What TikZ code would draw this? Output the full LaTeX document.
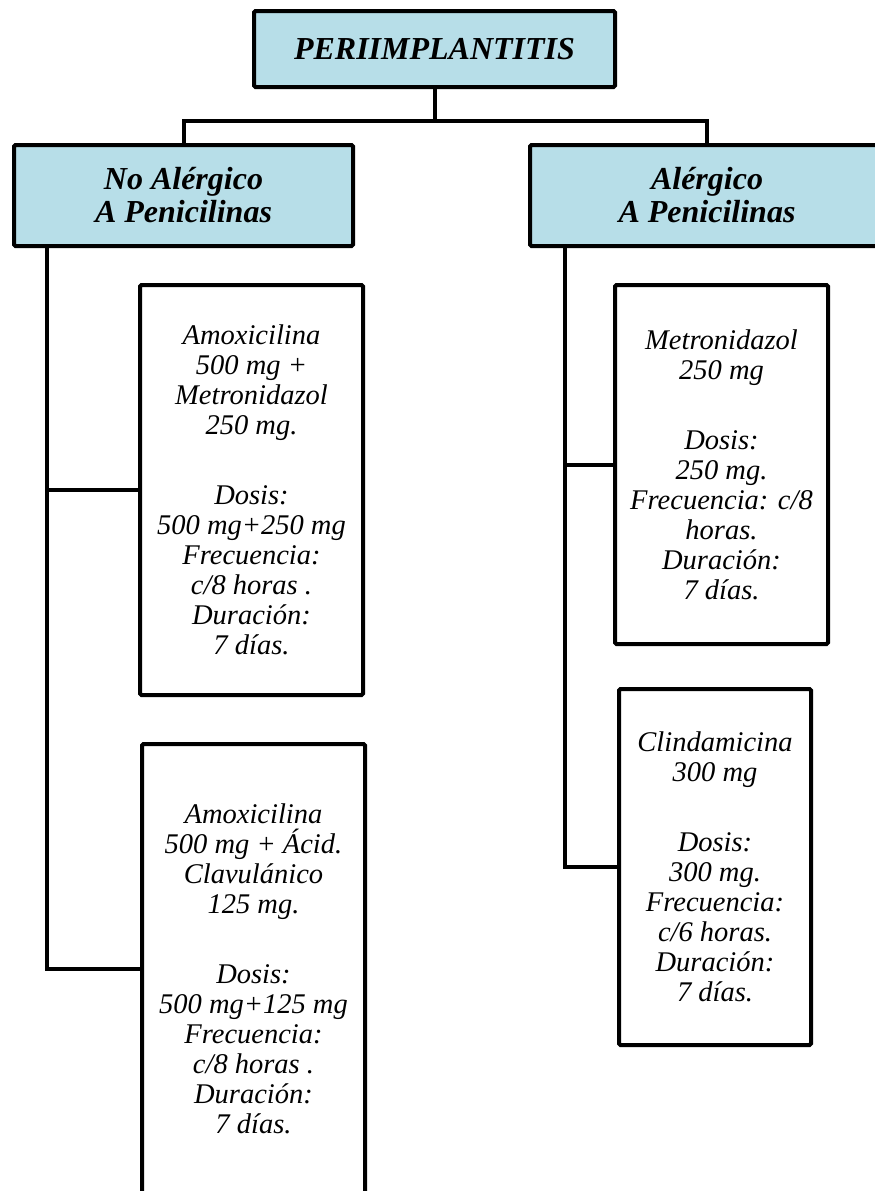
\documentclass[tikz,border=0pt]{standalone}
\usepackage{fontspec}
\setmainfont{Liberation Serif}
\usetikzlibrary{calc}
\definecolor{hdblue}{HTML}{B7DEE8}

\begin{document}
\begin{tikzpicture}[x=1pt,y=-1pt,
  hdbox/.style={draw,line width=4pt,fill=hdblue,rounded corners=1.5pt,inner sep=0pt,outer sep=0pt,
    align=center,font=\fontsize{32}{33}\selectfont\bfseries\itshape},
  drugbox/.style={draw,line width=4pt,fill=white,rounded corners=1.5pt,inner sep=0pt,outer sep=0pt,
    align=center,font=\fontsize{28.5}{30}\selectfont\itshape},
  link/.style={line width=4pt}]
\clip (0,0) rectangle (875,1191);
\useasboundingbox (0,0) rectangle (875,1191);
% heading boxes
\node[hdbox,minimum width=361pt,minimum height=76pt] (peri) at (434.5,49) {PERIIMPLANTITIS};
\node[hdbox,minimum width=339pt,minimum height=101pt] (noal) at (183.5,195.5) {No Alérgico\\A Penicilinas};
\node[hdbox,minimum width=354pt,minimum height=101pt] (aler) at (707,195.5) {Alérgico\\A Penicilinas};
% treatment boxes
\node[drugbox,minimum width=223pt,minimum height=410pt] (amxmet) at (251.5,490)
  {Amoxicilina\\500 mg +\\Metronidazol\\250 mg.\\[40pt]Dosis:\\500 mg+250 mg\\Frecuencia:\\c/8 horas .\\Duración:\\7 días.};
\node[drugbox,minimum width=223pt,minimum height=450pt] (amxcla) at (253.5,969)
  {Amoxicilina\\500 mg + Ácid.\\Clavulánico\\125 mg.\\[40pt]Dosis:\\500 mg+125 mg\\Frecuencia:\\c/8 horas .\\Duración:\\7 días.};
\node[drugbox,minimum width=213pt,minimum height=359pt] (metro) at (721.5,464.5)
  {Metronidazol\\250 mg\\[40pt]Dosis:\\250 mg.\\Frecuencia: c/8\\horas.\\Duración:\\7 días.};
\node[drugbox,minimum width=192pt,minimum height=356pt] (clinda) at (715,867)
  {Clindamicina\\300 mg\\[40pt]Dosis:\\300 mg.\\Frecuencia:\\c/6 horas.\\Duración:\\7 días.};
% connectors
\coordinate (split) at (434.5,121);
\coordinate (ltrunk) at ($(noal.south west)+(33,0)$);
\coordinate (rtrunk) at ($(aler.south west)+(35,0)$);
\draw[link] (peri.south) -- (split);
\draw[link] (noal.north) |- (split) -| (aler.north);
\draw[link] (ltrunk) |- (amxcla.west);
\draw[link] (ltrunk) |- (amxmet.west);
\draw[link] (rtrunk) |- (clinda.west);
\draw[link] (rtrunk) |- (metro.west);
\end{tikzpicture}
\end{document}
